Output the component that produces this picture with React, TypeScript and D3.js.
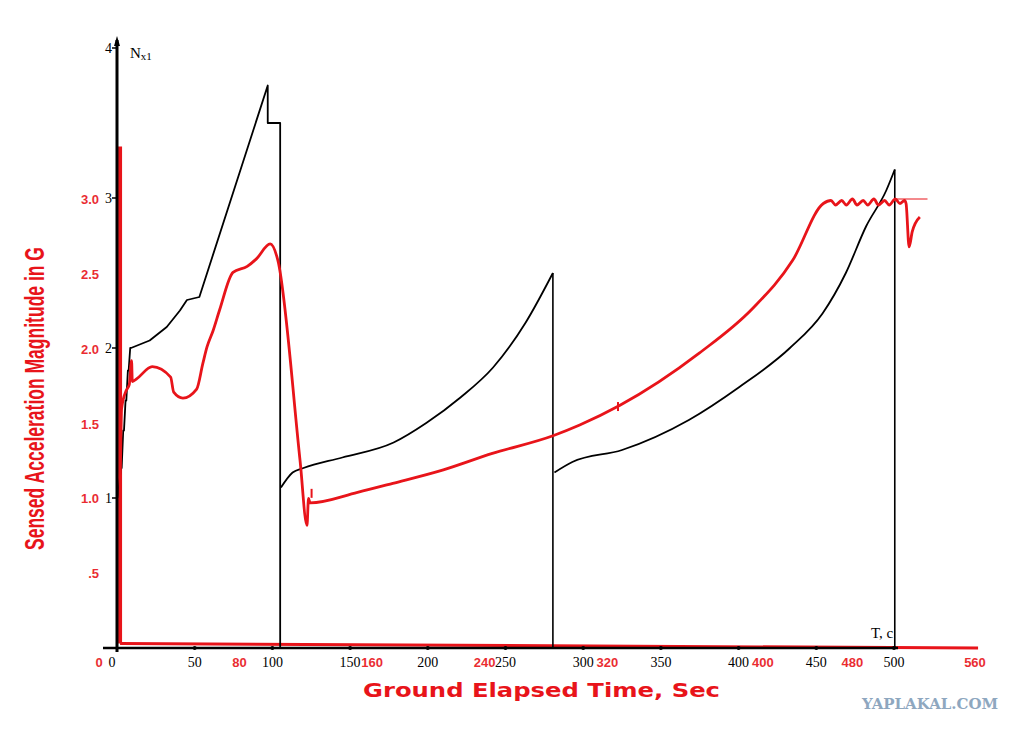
import React from "react";
import * as d3 from "d3";

// black (N_x1 vs T, c) chart
const blackStage1: [number, number][] = [
  [0.5, 1.0], [2.5, 1.2], [3, 1.2], [4, 1.45], [4.5, 1.45], [5.5, 1.65], [6, 1.65],
  [7, 1.85], [7.5, 1.85], [8.5, 2.0], [9, 2.0], [21, 2.05], [32, 2.14], [40.5, 2.25],
  [45, 2.32], [53, 2.34], [97, 3.75], [97, 3.5], [105, 3.5], [105, 0]
];
const blackStage2: [number, number][] = [
  [105.5, 1.07], [113, 1.17], [120, 1.2], [145, 1.27], [178, 1.37], [199, 1.5],
  [221, 1.67], [242, 1.87], [263, 2.17], [280.5, 2.5], [280.5, 0]
];
const blackStage3: [number, number][] = [
  [281.5, 1.17], [293, 1.24], [325, 1.32], [368, 1.52], [400.5, 1.74], [433, 2.0],
  [454, 2.23], [469, 2.5], [482, 2.81], [495, 3.05], [500.5, 3.19], [500.5, 0]
];
const blackXTicks = [0, 50, 100, 150, 200, 250, 300, 350, 400, 450, 500];
const blackYTicks = [1, 2, 3, 4];

// red (sensed acceleration vs ground elapsed time) chart
const redSpike: [number, number][] = [[2, 0.03], [2, 3.35]];
const redBase: [number, number][] = [[2, 0.03], [562, 0.0]];
const redAccel: [number, number][] = [
  [2, 1.0], [3, 1.6], [6, 1.72], [8, 1.76], [9.5, 1.92], [10, 1.78], [13, 1.8],
  [23, 1.88], [35, 1.81], [37, 1.71], [43, 1.67], [52, 1.73], [56, 1.9], [58.7, 2.01],
  [62.7, 2.12], [67, 2.26], [75.7, 2.51], [85, 2.55], [91, 2.6], [100, 2.7], [105, 2.59],
  [119.5, 1.25], [124, 0.82], [125, 1.0], [126, 0.97], [157, 1.04], [180, 1.1],
  [213, 1.19], [245, 1.3], [285, 1.42], [302, 1.49], [328, 1.62], [380, 1.97],
  [415, 2.27], [441, 2.59], [461, 2.97], [466, 2.99], [469, 2.96], [473, 2.99],
  [476, 2.96], [480, 3.0], [483, 2.96], [487, 2.99], [490, 2.96], [494, 3.0],
  [497, 2.96], [501, 2.99], [504, 2.96], [508, 3.0], [511, 2.97], [514, 2.99],
  [515, 2.97], [517, 2.68], [519, 2.78], [524, 2.88]
];
const redRef: [number, number][] = [[509, 3.0], [529, 3.0]];
const redMarks: [number, number][] = [[127, 1.03], [327, 1.61]];
const redXTicks = [0, 80, 160, 240, 320, 400, 480, 560];
const redXLabels = ["0", "80", "160", "240", "320", "400", "480", "560"];
const redYTicks = [0.5, 1.0, 1.5, 2.0, 2.5, 3.0];
const redYLabels = [".5", "1.0", "1.5", "2.0", "2.5", "3.0"];

const W = 1024;
const H = 733;
const RED = "#e8141a";
const SERIF = "'Liberation Serif', 'DejaVu Serif', serif";
const SANS = "'Liberation Sans', Arial, sans-serif";

// red labels that sit right on top of black ones get pushed aside a little
const RED_LABEL_NUDGE: Record<number, number> = { 0: -18, 160: 10, 400: 33 };

export default function App() {
  const xB = d3.scaleLinear().domain([0, 500]).range([117, 894]);
  const yB = d3.scaleLinear().domain([0, 4]).range([648, 48]);
  const xR = d3.scaleLinear().domain([0, 560]).range([117, 975]);
  const yR = d3.scaleLinear().domain([0, 3]).range([648, 199]);

  const lineB = d3.line<[number, number]>().x((d) => xB(d[0])).y((d) => yB(d[1]));
  const smoothB = d3.line<[number, number]>().x((d) => xB(d[0])).y((d) => yB(d[1])).curve(d3.curveMonotoneX);
  const lineR = d3.line<[number, number]>().x((d) => xR(d[0])).y((d) => yR(d[1]));
  const smoothR = d3.line<[number, number]>().x((d) => xR(d[0])).y((d) => yR(d[1])).curve(d3.curveMonotoneX);

  // stage 1 is drawn straight; stages 2 and 3 are smooth arcs plus a cut-off drop
  const smoothStages = [blackStage2, blackStage3];

  return (
    <svg width={W} height={H} style={{ position: "absolute", left: 0, top: 0, background: "#fff" }}>
      <rect width={W} height={H} fill="#fff" />

      {/* red baseline and launch spike */}
      <path d={lineR(redBase) || ""} fill="none" stroke={RED} strokeWidth={3} />
      <path d={lineR(redSpike) || ""} fill="none" stroke={RED} strokeWidth={4} />

      {/* black axes */}
      <line x1={103} x2={xB(500) + 4} y1={yB(0)} y2={yB(0)} stroke="#000" strokeWidth={2.5} />
      <line x1={xB(0)} x2={xB(0)} y1={yB(0) + 4} y2={40} stroke="#000" strokeWidth={3} />
      <path d={`M${xB(0) - 3},${46} L${xB(0)},${36} L${xB(0) + 3},${46} Z`} fill="#000" />
      {blackXTicks.slice(1).map((t) => (
        <circle key={"bx" + t} cx={xB(t)} cy={yB(0)} r={2} fill="#000" />
      ))}
      {blackYTicks.map((v) => (
        <line key={"byt" + v} x1={xB(0) - 5} x2={xB(0)} y1={yB(v)} y2={yB(v)} stroke="#000" strokeWidth={1.5} />
      ))}

      {/* black curves */}
      <path d={lineB(blackStage1) || ""} fill="none" stroke="#000" strokeWidth={1.8} strokeLinejoin="round" />
      {smoothStages.map((s, i) => (
        <g key={"bs" + i}>
          <path d={smoothB(s.slice(0, -1)) || ""} fill="none" stroke="#000" strokeWidth={1.8} />
          <path d={lineB(s.slice(-2)) || ""} fill="none" stroke="#000" strokeWidth={1.6} />
        </g>
      ))}

      {/* red curve */}
      <path d={smoothR(redAccel) || ""} fill="none" stroke={RED} strokeWidth={2.8} strokeLinejoin="round" />
      <path d={lineR(redRef) || ""} fill="none" stroke={RED} strokeWidth={1} />
      {redMarks.map((m, i) => (
        <line key={"rm" + i} x1={xR(m[0])} x2={xR(m[0])} y1={yR(m[1]) - 5} y2={yR(m[1]) + 4} stroke={RED} strokeWidth={2} />
      ))}

      {/* black tick labels */}
      <g fontFamily={SERIF} fontSize={14} fill="#000">
        {blackXTicks.map((t) => (
          <text key={"bxl" + t} x={t === 0 ? 112 : xB(t)} y={667} textAnchor="middle">{t}</text>
        ))}
        {blackYTicks.map((v) => (
          <text key={"byl" + v} x={xB(0) - 5} y={yB(v) + 5} textAnchor="end">{v}</text>
        ))}
        <text x={130} y={58} fontSize={15}>N<tspan fontSize={11} dy={2}>x1</tspan></text>
        <text x={871} y={638} fontSize={15}>T, c</text>
      </g>

      {/* red tick labels */}
      <g fontFamily={SANS} fontWeight="bold" fontSize={13} fill={RED} opacity={0.9}>
        {redXTicks.map((t, i) => (
          <text key={"rxl" + t} x={xR(t) + (RED_LABEL_NUDGE[t] || 0)} y={667} textAnchor="middle">{redXLabels[i]}</text>
        ))}
        {redYTicks.map((v, i) => (
          <text key={"ryl" + v} x={99} y={yR(v) + 5} textAnchor="end">{redYLabels[i]}</text>
        ))}
      </g>

      {/* red titles */}
      <text x={363} y={697} fontFamily="'DejaVu Sans', sans-serif" fontWeight="bold" fontSize={19}
        fill={RED} textLength={357} lengthAdjust="spacingAndGlyphs">Ground Elapsed Time, Sec</text>
      <text transform="translate(44,550) rotate(-90)" fontFamily={SANS} fontWeight="bold" fontSize={27}
        fill={RED} textLength={303} lengthAdjust="spacingAndGlyphs">Sensed Acceleration Magnitude in G</text>

      {/* watermark */}
      <text x={862} y={709} fontFamily="'DejaVu Serif', serif" fontWeight="bold" fontSize={15}
        fill="#8ea7bf" textLength={136} lengthAdjust="spacingAndGlyphs">YAPLAKAL.COM</text>
    </svg>
  );
}
